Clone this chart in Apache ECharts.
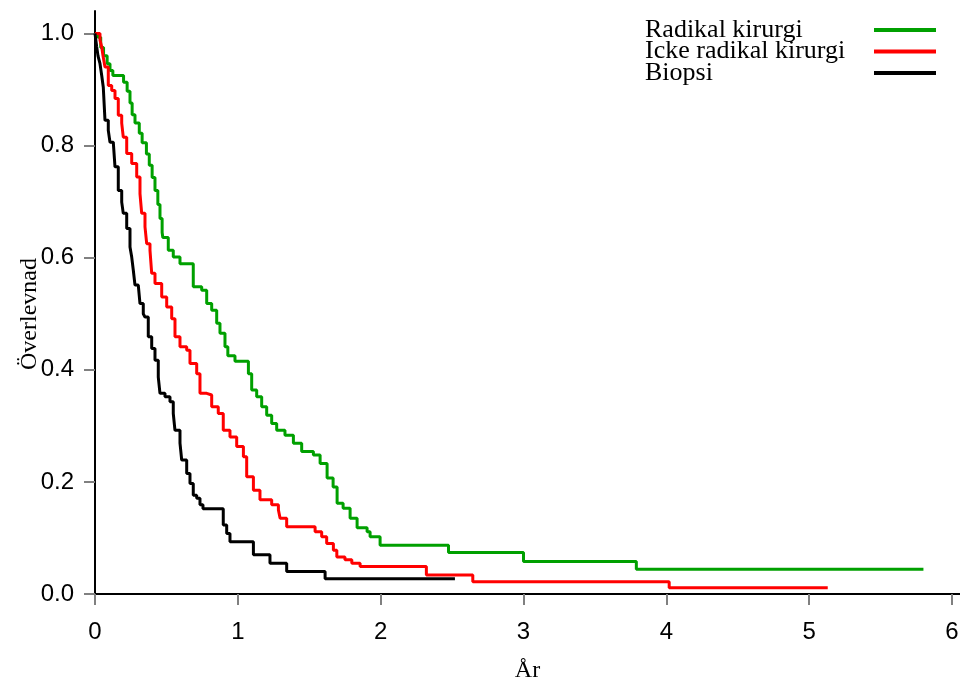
<!DOCTYPE html>
<html>
<head>
<meta charset="utf-8">
<script src="https://cdn.jsdelivr.net/npm/echarts@6/dist/echarts.min.js"></script>
<style>html,body{margin:0;padding:0;background:#fff}#c{width:960px;height:688px}</style>
</head>
<body>
<div id="c"></div>
<script>
// Series names
const seriesNames = ['Radikal kirurgi', 'Icke radikal kirurgi', 'Biopsi'];
// Radikal kirurgi (green): time (years) and survival after each drop
const radikalT = [0,0.02,0.04,0.06,0.085,0.105,0.125,0.2,0.225,0.245,0.26,0.28,0.31,0.33,0.36,0.38,0.40,0.42,0.44,0.455,0.47,0.475,0.513,0.548,0.595,0.688,0.747,0.782,0.817,0.852,0.875,0.91,0.93,0.98,1.074,1.097,1.132,1.167,1.202,1.237,1.272,1.33,1.389,1.447,1.529,1.576,1.625,1.667,1.695,1.737,1.786,1.835,1.905,1.926,1.996,2.475,3.0,3.79,5.8];
const radikalS = [1.0,0.993,0.975,0.96,0.946,0.934,0.925,0.913,0.897,0.876,0.855,0.84,0.822,0.805,0.785,0.765,0.743,0.72,0.695,0.67,0.645,0.636,0.613,0.601,0.589,0.548,0.542,0.518,0.506,0.483,0.465,0.441,0.425,0.415,0.393,0.364,0.352,0.334,0.319,0.304,0.292,0.283,0.269,0.254,0.248,0.233,0.207,0.191,0.162,0.153,0.135,0.118,0.111,0.102,0.087,0.074,0.058,0.044,0.044];
// Icke radikal kirurgi (red)
const ickeT = [0,0.035,0.047,0.056,0.07,0.093,0.117,0.14,0.163,0.187,0.198,0.222,0.257,0.292,0.315,0.327,0.35,0.362,0.385,0.397,0.42,0.467,0.502,0.537,0.56,0.595,0.642,0.665,0.712,0.735,0.782,0.817,0.863,0.898,0.945,0.992,1.039,1.062,1.109,1.155,1.237,1.284,1.296,1.342,1.541,1.587,1.622,1.669,1.693,1.75,1.798,1.856,2.32,2.645,4.02,5.13];
const ickeS = [1.0,0.988,0.976,0.96,0.94,0.907,0.898,0.884,0.854,0.84,0.815,0.786,0.768,0.744,0.714,0.679,0.655,0.625,0.613,0.572,0.554,0.53,0.512,0.491,0.459,0.441,0.435,0.411,0.393,0.358,0.355,0.334,0.322,0.292,0.28,0.263,0.245,0.209,0.185,0.168,0.159,0.15,0.135,0.12,0.111,0.102,0.09,0.078,0.066,0.061,0.055,0.049,0.034,0.022,0.011,0.011];
// Biopsi (black)
const biopsiT = [0,0.012,0.021,0.035,0.047,0.058,0.07,0.093,0.105,0.128,0.14,0.163,0.187,0.198,0.222,0.245,0.257,0.268,0.28,0.303,0.315,0.338,0.35,0.373,0.397,0.42,0.443,0.455,0.49,0.525,0.548,0.56,0.595,0.607,0.642,0.665,0.688,0.712,0.735,0.756,0.898,0.922,0.945,1.109,1.225,1.342,1.611,2.52];
const biopsiS = [1.0,0.976,0.96,0.946,0.925,0.904,0.845,0.827,0.806,0.803,0.762,0.72,0.699,0.679,0.652,0.619,0.601,0.578,0.551,0.548,0.518,0.5,0.494,0.459,0.438,0.417,0.387,0.358,0.352,0.343,0.322,0.292,0.269,0.239,0.215,0.197,0.176,0.171,0.159,0.152,0.123,0.108,0.093,0.07,0.055,0.04,0.027,0.027];
// Axis ticks
const xTicks = [0,1,2,3,4,5,6];
const yTicks = [0,0.2,0.4,0.6,0.8,1.0];
const colors = ['#00a000','#ff0000','#000000'];

const zip = (t, s) => t.map((v, i) => [v, s[i]]);
const allData = [zip(radikalT, radikalS), zip(ickeT, ickeS), zip(biopsiT, biopsiS)];
const serif = '"Liberation Serif", "Times New Roman", serif';
const sans = '"Liberation Sans", Arial, sans-serif';

const chart = echarts.init(document.getElementById('c'), null, {renderer: 'canvas'});
chart.setOption({
  animation: false,
  backgroundColor: '#ffffff',
  grid: {left: 95, right: 0, top: 11, bottom: 94, containLabel: false, outerBoundsMode: 'none'},
  legend: {
    orient: 'vertical', align: 'right', left: 645, top: 17, padding: 0,
    itemWidth: 62, itemHeight: 4, itemGap: -4.5, icon: 'rect',
    formatter: n => '{a|' + n + '}',
    textStyle: {fontFamily: serif, fontSize: 26, color: '#000', lineHeight: 22,
      rich: {a: {fontFamily: serif, fontSize: 26, color: '#000', width: 224, align: 'left', lineHeight: 22}}},
    data: seriesNames
  },
  xAxis: {
    type: 'value', min: 0, max: 6.056,
    name: 'År', nameLocation: 'middle', nameGap: 65, nameMoveOverlap: false,
    nameTextStyle: {fontFamily: serif, fontSize: 24, color: '#000'},
    axisLine: {lineStyle: {color: '#000', width: 2}},
    axisTick: {customValues: xTicks, length: 11, lineStyle: {color: '#808080', width: 2}},
    axisLabel: {customValues: xTicks, margin: 26, fontFamily: sans, fontSize: 24, color: '#000'},
    splitLine: {show: false}
  },
  yAxis: {
    type: 'value', min: 0, max: 1.04,
    name: 'Överlevnad', nameLocation: 'middle', nameGap: 53, nameRotate: 90, nameMoveOverlap: false,
    nameTextStyle: {fontFamily: serif, fontSize: 24, color: '#000', padding: [0, 23, 0, 0]},
    axisLine: {show: true, lineStyle: {color: '#000', width: 2}},
    axisTick: {show: true, customValues: yTicks, length: 11, lineStyle: {color: '#808080', width: 2}},
    axisLabel: {customValues: yTicks, margin: 21, fontFamily: sans, fontSize: 24, color: '#000', formatter: v => v.toFixed(1)},
    splitLine: {show: false}
  },
  series: seriesNames.map((n, i) => ({
    name: n, type: 'line', step: 'end', showSymbol: false, symbol: 'none',
    data: allData[i], color: colors[i],
    lineStyle: {width: 3, color: colors[i]}
  }))
});
</script>
</body>
</html>
